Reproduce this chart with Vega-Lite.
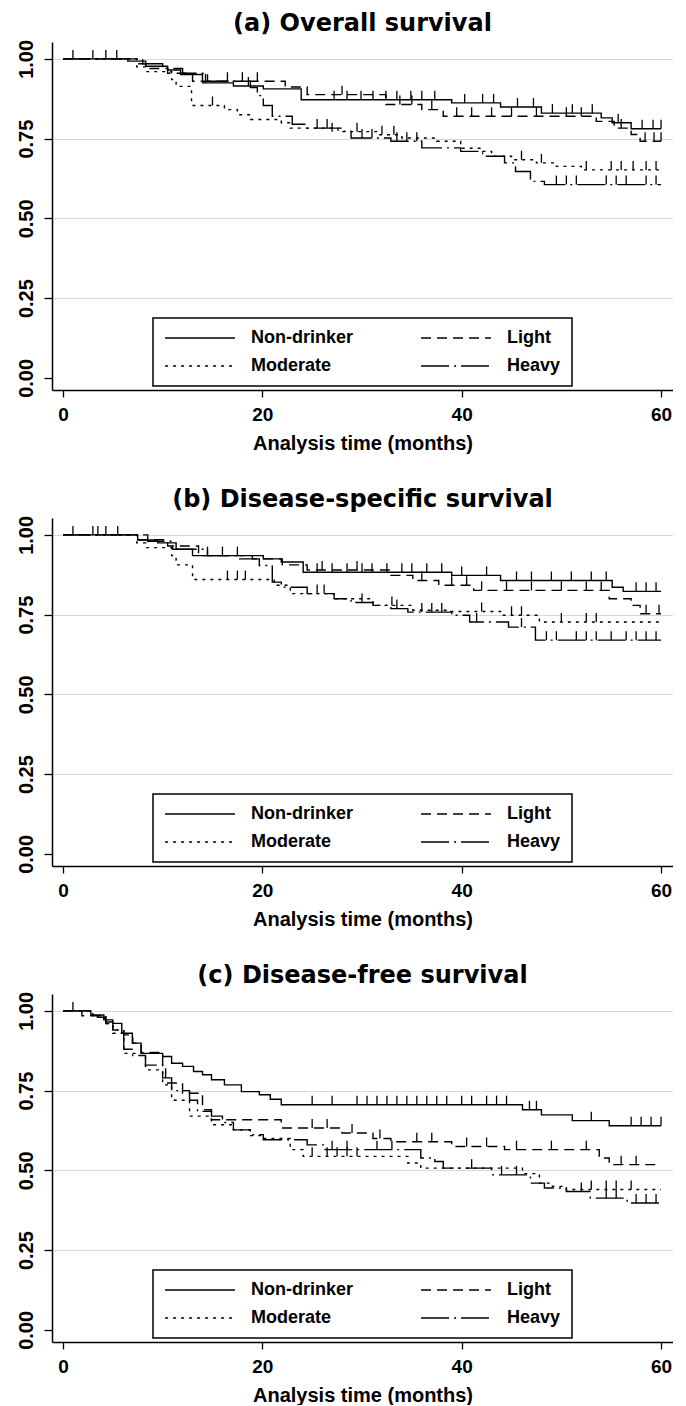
{
  "$schema": "https://vega.github.io/schema/vega-lite/v6.json",
  "background": "white",
  "padding": {"left": 16, "top": 12, "right": 0, "bottom": 0},
  "spacing": 128,
  "bounds": "flush",
  "datasets": {
    "curves": [
      {"panel":"a","group":"Non-drinker","time":0,"surv":1},{"panel":"a","group":"Non-drinker","time":6.5,"surv":0.993},{"panel":"a","group":"Non-drinker","time":8.3,"surv":0.977},{"panel":"a","group":"Non-drinker","time":10.5,"surv":0.965},{"panel":"a","group":"Non-drinker","time":11.8,"surv":0.951},{"panel":"a","group":"Non-drinker","time":14.0,"surv":0.925},{"panel":"a","group":"Non-drinker","time":17.1,"surv":0.915},{"panel":"a","group":"Non-drinker","time":20.1,"surv":0.906},{"panel":"a","group":"Non-drinker","time":23.9,"surv":0.872},{"panel":"a","group":"Non-drinker","time":39.0,"surv":0.862},{"panel":"a","group":"Non-drinker","time":43.9,"surv":0.849},{"panel":"a","group":"Non-drinker","time":48.0,"surv":0.83},{"panel":"a","group":"Non-drinker","time":54.0,"surv":0.815},{"panel":"a","group":"Non-drinker","time":55.1,"surv":0.80},{"panel":"a","group":"Non-drinker","time":57.0,"surv":0.781},{"panel":"a","group":"Non-drinker","time":60,"surv":0.781},
      {"panel":"a","group":"Light","time":0,"surv":1},{"panel":"a","group":"Light","time":7.4,"surv":0.985},{"panel":"a","group":"Light","time":8.3,"surv":0.97},{"panel":"a","group":"Light","time":10.5,"surv":0.955},{"panel":"a","group":"Light","time":13.0,"surv":0.93},{"panel":"a","group":"Light","time":22.3,"surv":0.912},{"panel":"a","group":"Light","time":24.5,"surv":0.888},{"panel":"a","group":"Light","time":32.4,"surv":0.857},{"panel":"a","group":"Light","time":36.0,"surv":0.841},{"panel":"a","group":"Light","time":38.15,"surv":0.82},{"panel":"a","group":"Light","time":53.5,"surv":0.804},{"panel":"a","group":"Light","time":55.3,"surv":0.783},{"panel":"a","group":"Light","time":57.0,"surv":0.763},{"panel":"a","group":"Light","time":57.9,"surv":0.742},{"panel":"a","group":"Light","time":60,"surv":0.742},
      {"panel":"a","group":"Moderate","time":0,"surv":1},{"panel":"a","group":"Moderate","time":7.4,"surv":0.975},{"panel":"a","group":"Moderate","time":8.3,"surv":0.96},{"panel":"a","group":"Moderate","time":10.9,"surv":0.935},{"panel":"a","group":"Moderate","time":11.35,"surv":0.914},{"panel":"a","group":"Moderate","time":12.9,"surv":0.854},{"panel":"a","group":"Moderate","time":16.2,"surv":0.841},{"panel":"a","group":"Moderate","time":17.5,"surv":0.825},{"panel":"a","group":"Moderate","time":18.8,"surv":0.81},{"panel":"a","group":"Moderate","time":21.9,"surv":0.80},{"panel":"a","group":"Moderate","time":22.8,"surv":0.783},{"panel":"a","group":"Moderate","time":27.6,"surv":0.772},{"panel":"a","group":"Moderate","time":31.6,"surv":0.762},{"panel":"a","group":"Moderate","time":34.0,"surv":0.752},{"panel":"a","group":"Moderate","time":37.5,"surv":0.742},{"panel":"a","group":"Moderate","time":39.9,"surv":0.72},{"panel":"a","group":"Moderate","time":42.1,"surv":0.71},{"panel":"a","group":"Moderate","time":43.0,"surv":0.695},{"panel":"a","group":"Moderate","time":45.0,"surv":0.684},{"panel":"a","group":"Moderate","time":47.5,"surv":0.674},{"panel":"a","group":"Moderate","time":49.5,"surv":0.663},{"panel":"a","group":"Moderate","time":52.0,"surv":0.652},{"panel":"a","group":"Moderate","time":60,"surv":0.652},
      {"panel":"a","group":"Heavy","time":0,"surv":1},{"panel":"a","group":"Heavy","time":8.0,"surv":0.985},{"panel":"a","group":"Heavy","time":10.0,"surv":0.97},{"panel":"a","group":"Heavy","time":12.0,"surv":0.955},{"panel":"a","group":"Heavy","time":14.5,"surv":0.93},{"panel":"a","group":"Heavy","time":18.8,"surv":0.91},{"panel":"a","group":"Heavy","time":19.5,"surv":0.885},{"panel":"a","group":"Heavy","time":20.1,"surv":0.854},{"panel":"a","group":"Heavy","time":21.0,"surv":0.82},{"panel":"a","group":"Heavy","time":23.0,"surv":0.795},{"panel":"a","group":"Heavy","time":24.5,"surv":0.783},{"panel":"a","group":"Heavy","time":28.0,"surv":0.773},{"panel":"a","group":"Heavy","time":28.9,"surv":0.752},{"panel":"a","group":"Heavy","time":32.9,"surv":0.742},{"panel":"a","group":"Heavy","time":36.0,"surv":0.721},{"panel":"a","group":"Heavy","time":39.9,"surv":0.71},{"panel":"a","group":"Heavy","time":42.1,"surv":0.695},{"panel":"a","group":"Heavy","time":44.3,"surv":0.674},{"panel":"a","group":"Heavy","time":45.4,"surv":0.647},{"panel":"a","group":"Heavy","time":46.9,"surv":0.616},{"panel":"a","group":"Heavy","time":48.3,"surv":0.606},{"panel":"a","group":"Heavy","time":60,"surv":0.606},

      {"panel":"b","group":"Non-drinker","time":0,"surv":1},{"panel":"b","group":"Non-drinker","time":7.5,"surv":0.984},{"panel":"b","group":"Non-drinker","time":9.5,"surv":0.975},{"panel":"b","group":"Non-drinker","time":11.35,"surv":0.955},{"panel":"b","group":"Non-drinker","time":13.0,"surv":0.935},{"panel":"b","group":"Non-drinker","time":20.1,"surv":0.925},{"panel":"b","group":"Non-drinker","time":21.9,"surv":0.915},{"panel":"b","group":"Non-drinker","time":24.1,"surv":0.883},{"panel":"b","group":"Non-drinker","time":39.0,"surv":0.873},{"panel":"b","group":"Non-drinker","time":43.9,"surv":0.857},{"panel":"b","group":"Non-drinker","time":55.1,"surv":0.836},{"panel":"b","group":"Non-drinker","time":56.2,"surv":0.823},{"panel":"b","group":"Non-drinker","time":60,"surv":0.823},
      {"panel":"b","group":"Light","time":0,"surv":1},{"panel":"b","group":"Light","time":7.4,"surv":0.985},{"panel":"b","group":"Light","time":10.5,"surv":0.965},{"panel":"b","group":"Light","time":13.6,"surv":0.935},{"panel":"b","group":"Light","time":19.0,"surv":0.925},{"panel":"b","group":"Light","time":22.0,"surv":0.906},{"panel":"b","group":"Light","time":24.5,"surv":0.89},{"panel":"b","group":"Light","time":32.9,"surv":0.873},{"panel":"b","group":"Light","time":35.1,"surv":0.857},{"panel":"b","group":"Light","time":37.7,"surv":0.842},{"panel":"b","group":"Light","time":41.2,"surv":0.826},{"panel":"b","group":"Light","time":54.8,"surv":0.80},{"panel":"b","group":"Light","time":57.0,"surv":0.779},{"panel":"b","group":"Light","time":57.9,"surv":0.753},{"panel":"b","group":"Light","time":60,"surv":0.753},
      {"panel":"b","group":"Moderate","time":0,"surv":1},{"panel":"b","group":"Moderate","time":7.4,"surv":0.975},{"panel":"b","group":"Moderate","time":8.3,"surv":0.96},{"panel":"b","group":"Moderate","time":10.9,"surv":0.935},{"panel":"b","group":"Moderate","time":11.35,"surv":0.906},{"panel":"b","group":"Moderate","time":13.0,"surv":0.86},{"panel":"b","group":"Moderate","time":21.2,"surv":0.842},{"panel":"b","group":"Moderate","time":22.8,"surv":0.816},{"panel":"b","group":"Moderate","time":27.2,"surv":0.80},{"panel":"b","group":"Moderate","time":31.1,"surv":0.779},{"panel":"b","group":"Moderate","time":35.1,"surv":0.764},{"panel":"b","group":"Moderate","time":38.6,"surv":0.76},{"panel":"b","group":"Moderate","time":43.9,"surv":0.748},{"panel":"b","group":"Moderate","time":47.8,"surv":0.727},{"panel":"b","group":"Moderate","time":60,"surv":0.727},
      {"panel":"b","group":"Heavy","time":0,"surv":1},{"panel":"b","group":"Heavy","time":8.5,"surv":0.98},{"panel":"b","group":"Heavy","time":11.0,"surv":0.955},{"panel":"b","group":"Heavy","time":14.5,"surv":0.935},{"panel":"b","group":"Heavy","time":17.5,"surv":0.925},{"panel":"b","group":"Heavy","time":19.7,"surv":0.904},{"panel":"b","group":"Heavy","time":21.0,"surv":0.852},{"panel":"b","group":"Heavy","time":21.9,"surv":0.836},{"panel":"b","group":"Heavy","time":24.5,"surv":0.816},{"panel":"b","group":"Heavy","time":27.2,"surv":0.80},{"panel":"b","group":"Heavy","time":28.9,"surv":0.788},{"panel":"b","group":"Heavy","time":31.1,"surv":0.779},{"panel":"b","group":"Heavy","time":32.9,"surv":0.769},{"panel":"b","group":"Heavy","time":34.6,"surv":0.758},{"panel":"b","group":"Heavy","time":39.0,"surv":0.748},{"panel":"b","group":"Heavy","time":40.8,"surv":0.727},{"panel":"b","group":"Heavy","time":44.7,"surv":0.711},{"panel":"b","group":"Heavy","time":47.4,"surv":0.67},{"panel":"b","group":"Heavy","time":60,"surv":0.67},

      {"panel":"c","group":"Non-drinker","time":0,"surv":1},{"panel":"c","group":"Non-drinker","time":2.8,"surv":0.987},{"panel":"c","group":"Non-drinker","time":4.1,"surv":0.972},{"panel":"c","group":"Non-drinker","time":5.0,"surv":0.961},{"panel":"c","group":"Non-drinker","time":5.9,"surv":0.93},{"panel":"c","group":"Non-drinker","time":6.96,"surv":0.899},{"panel":"c","group":"Non-drinker","time":7.84,"surv":0.867},{"panel":"c","group":"Non-drinker","time":10.0,"surv":0.857},{"panel":"c","group":"Non-drinker","time":10.9,"surv":0.836},{"panel":"c","group":"Non-drinker","time":12.0,"surv":0.826},{"panel":"c","group":"Non-drinker","time":13.1,"surv":0.81},{"panel":"c","group":"Non-drinker","time":14.0,"surv":0.80},{"panel":"c","group":"Non-drinker","time":14.9,"surv":0.784},{"panel":"c","group":"Non-drinker","time":16.2,"surv":0.768},{"panel":"c","group":"Non-drinker","time":17.9,"surv":0.747},{"panel":"c","group":"Non-drinker","time":19.7,"surv":0.737},{"panel":"c","group":"Non-drinker","time":20.8,"surv":0.723},{"panel":"c","group":"Non-drinker","time":21.9,"surv":0.706},{"panel":"c","group":"Non-drinker","time":46.1,"surv":0.69},{"panel":"c","group":"Non-drinker","time":48.0,"surv":0.674},{"panel":"c","group":"Non-drinker","time":51.1,"surv":0.656},{"panel":"c","group":"Non-drinker","time":54.8,"surv":0.64},{"panel":"c","group":"Non-drinker","time":60,"surv":0.64},
      {"panel":"c","group":"Light","time":0,"surv":1},{"panel":"c","group":"Light","time":1.9,"surv":0.985},{"panel":"c","group":"Light","time":3.5,"surv":0.975},{"panel":"c","group":"Light","time":4.3,"surv":0.96},{"panel":"c","group":"Light","time":5.0,"surv":0.94},{"panel":"c","group":"Light","time":6.1,"surv":0.925},{"panel":"c","group":"Light","time":7.0,"surv":0.899},{"panel":"c","group":"Light","time":7.84,"surv":0.87},{"panel":"c","group":"Light","time":10.0,"surv":0.826},{"panel":"c","group":"Light","time":10.3,"surv":0.774},{"panel":"c","group":"Light","time":12.0,"surv":0.742},{"panel":"c","group":"Light","time":14.0,"surv":0.69},{"panel":"c","group":"Light","time":14.9,"surv":0.659},{"panel":"c","group":"Light","time":21.9,"surv":0.633},{"panel":"c","group":"Light","time":28.0,"surv":0.617},{"panel":"c","group":"Light","time":31.1,"surv":0.60},{"panel":"c","group":"Light","time":32.9,"surv":0.59},{"panel":"c","group":"Light","time":39.0,"surv":0.575},{"panel":"c","group":"Light","time":44.3,"surv":0.565},{"panel":"c","group":"Light","time":53.8,"surv":0.539},{"panel":"c","group":"Light","time":54.8,"surv":0.518},{"panel":"c","group":"Light","time":60,"surv":0.518},
      {"panel":"c","group":"Moderate","time":0,"surv":1},{"panel":"c","group":"Moderate","time":3.0,"surv":0.985},{"panel":"c","group":"Moderate","time":4.3,"surv":0.96},{"panel":"c","group":"Moderate","time":5.0,"surv":0.93},{"panel":"c","group":"Moderate","time":6.1,"surv":0.867},{"panel":"c","group":"Moderate","time":8.28,"surv":0.815},{"panel":"c","group":"Moderate","time":10.0,"surv":0.768},{"panel":"c","group":"Moderate","time":10.9,"surv":0.72},{"panel":"c","group":"Moderate","time":12.7,"surv":0.67},{"panel":"c","group":"Moderate","time":14.9,"surv":0.643},{"panel":"c","group":"Moderate","time":17.1,"surv":0.627},{"panel":"c","group":"Moderate","time":18.8,"surv":0.609},{"panel":"c","group":"Moderate","time":20.1,"surv":0.60},{"panel":"c","group":"Moderate","time":22.8,"surv":0.565},{"panel":"c","group":"Moderate","time":24.1,"surv":0.544},{"panel":"c","group":"Moderate","time":34.6,"surv":0.523},{"panel":"c","group":"Moderate","time":35.9,"surv":0.507},{"panel":"c","group":"Moderate","time":46.1,"surv":0.49},{"panel":"c","group":"Moderate","time":47.8,"surv":0.46},{"panel":"c","group":"Moderate","time":49.1,"surv":0.45},{"panel":"c","group":"Moderate","time":50.5,"surv":0.44},{"panel":"c","group":"Moderate","time":60,"surv":0.44},
      {"panel":"c","group":"Heavy","time":0,"surv":1},{"panel":"c","group":"Heavy","time":3.0,"surv":0.98},{"panel":"c","group":"Heavy","time":4.3,"surv":0.965},{"panel":"c","group":"Heavy","time":5.0,"surv":0.94},{"panel":"c","group":"Heavy","time":6.1,"surv":0.88},{"panel":"c","group":"Heavy","time":7.0,"surv":0.86},{"panel":"c","group":"Heavy","time":8.28,"surv":0.83},{"panel":"c","group":"Heavy","time":10.0,"surv":0.79},{"panel":"c","group":"Heavy","time":10.9,"surv":0.75},{"panel":"c","group":"Heavy","time":12.7,"surv":0.72},{"panel":"c","group":"Heavy","time":13.5,"surv":0.685},{"panel":"c","group":"Heavy","time":14.9,"surv":0.67},{"panel":"c","group":"Heavy","time":16.0,"surv":0.65},{"panel":"c","group":"Heavy","time":17.1,"surv":0.627},{"panel":"c","group":"Heavy","time":18.8,"surv":0.612},{"panel":"c","group":"Heavy","time":20.1,"surv":0.596},{"panel":"c","group":"Heavy","time":24.5,"surv":0.58},{"panel":"c","group":"Heavy","time":26.3,"surv":0.565},{"panel":"c","group":"Heavy","time":35.9,"surv":0.539},{"panel":"c","group":"Heavy","time":37.3,"surv":0.528},{"panel":"c","group":"Heavy","time":38.15,"surv":0.507},{"panel":"c","group":"Heavy","time":43.0,"surv":0.486},{"panel":"c","group":"Heavy","time":46.9,"surv":0.46},{"panel":"c","group":"Heavy","time":48.3,"surv":0.445},{"panel":"c","group":"Heavy","time":50.5,"surv":0.434},{"panel":"c","group":"Heavy","time":52.9,"surv":0.413},{"panel":"c","group":"Heavy","time":56.6,"surv":0.398},{"panel":"c","group":"Heavy","time":60,"surv":0.398}
    ],
    "censor": [
      {"panel":"a","time":1.0,"surv":1},{"panel":"a","time":3.0,"surv":1},{"panel":"a","time":4.3,"surv":1},{"panel":"a","time":5.4,"surv":1},{"panel":"a","time":14.3,"surv":0.925},{"panel":"a","time":18.6,"surv":0.915},{"panel":"a","time":27.2,"surv":0.872},{"panel":"a","time":28.5,"surv":0.872},{"panel":"a","time":29.9,"surv":0.872},{"panel":"a","time":31.1,"surv":0.872},{"panel":"a","time":32.4,"surv":0.872},{"panel":"a","time":33.5,"surv":0.872},{"panel":"a","time":34.9,"surv":0.872},{"panel":"a","time":36.0,"surv":0.872},{"panel":"a","time":37.3,"surv":0.872},{"panel":"a","time":40.3,"surv":0.862},{"panel":"a","time":42.1,"surv":0.862},{"panel":"a","time":43.2,"surv":0.862},{"panel":"a","time":45.6,"surv":0.849},{"panel":"a","time":47.2,"surv":0.849},{"panel":"a","time":49.1,"surv":0.83},{"panel":"a","time":51.1,"surv":0.83},{"panel":"a","time":53.1,"surv":0.83},{"panel":"a","time":55.7,"surv":0.80},{"panel":"a","time":58.1,"surv":0.781},{"panel":"a","time":59.2,"surv":0.781},{"panel":"a","time":60,"surv":0.781},
      {"panel":"a","time":16.5,"surv":0.93},{"panel":"a","time":18.0,"surv":0.93},{"panel":"a","time":19.5,"surv":0.93},{"panel":"a","time":28.0,"surv":0.888},{"panel":"a","time":33.8,"surv":0.857},{"panel":"a","time":35.0,"surv":0.857},{"panel":"a","time":37.0,"surv":0.841},{"panel":"a","time":39.5,"surv":0.82},{"panel":"a","time":41.0,"surv":0.82},{"panel":"a","time":43.0,"surv":0.82},{"panel":"a","time":45.0,"surv":0.82},{"panel":"a","time":47.5,"surv":0.82},{"panel":"a","time":50.5,"surv":0.82},{"panel":"a","time":52.0,"surv":0.82},{"panel":"a","time":56.0,"surv":0.783},{"panel":"a","time":58.4,"surv":0.742},{"panel":"a","time":59.3,"surv":0.742},{"panel":"a","time":60,"surv":0.742},
      {"panel":"a","time":15.0,"surv":0.854},{"panel":"a","time":27.0,"surv":0.772},{"panel":"a","time":29.5,"surv":0.772},{"panel":"a","time":32.0,"surv":0.762},{"panel":"a","time":33.2,"surv":0.762},{"panel":"a","time":46.0,"surv":0.684},{"panel":"a","time":48.0,"surv":0.674},{"panel":"a","time":52.5,"surv":0.652},{"panel":"a","time":55.0,"surv":0.652},{"panel":"a","time":56.0,"surv":0.652},{"panel":"a","time":57.2,"surv":0.652},{"panel":"a","time":58.5,"surv":0.652},{"panel":"a","time":59.5,"surv":0.652},
      {"panel":"a","time":25.5,"surv":0.783},{"panel":"a","time":26.5,"surv":0.783},{"panel":"a","time":30.0,"surv":0.752},{"panel":"a","time":31.0,"surv":0.752},{"panel":"a","time":33.5,"surv":0.742},{"panel":"a","time":34.5,"surv":0.742},{"panel":"a","time":35.5,"surv":0.742},{"panel":"a","time":49.5,"surv":0.606},{"panel":"a","time":50.5,"surv":0.606},{"panel":"a","time":51.5,"surv":0.606},{"panel":"a","time":54.5,"surv":0.606},{"panel":"a","time":55.5,"surv":0.606},{"panel":"a","time":56.5,"surv":0.606},{"panel":"a","time":58.5,"surv":0.606},{"panel":"a","time":59.5,"surv":0.606},

      {"panel":"b","time":1.0,"surv":1},{"panel":"b","time":3.0,"surv":1},{"panel":"b","time":4.3,"surv":1},{"panel":"b","time":5.5,"surv":1},{"panel":"b","time":14.5,"surv":0.935},{"panel":"b","time":16.0,"surv":0.935},{"panel":"b","time":17.5,"surv":0.935},{"panel":"b","time":25.5,"surv":0.883},{"panel":"b","time":27.0,"surv":0.883},{"panel":"b","time":28.5,"surv":0.883},{"panel":"b","time":30.0,"surv":0.883},{"panel":"b","time":31.0,"surv":0.883},{"panel":"b","time":32.5,"surv":0.883},{"panel":"b","time":34.0,"surv":0.883},{"panel":"b","time":35.0,"surv":0.883},{"panel":"b","time":36.5,"surv":0.883},{"panel":"b","time":38.0,"surv":0.883},{"panel":"b","time":40.0,"surv":0.873},{"panel":"b","time":42.5,"surv":0.873},{"panel":"b","time":45.5,"surv":0.857},{"panel":"b","time":47.0,"surv":0.857},{"panel":"b","time":49.0,"surv":0.857},{"panel":"b","time":51.0,"surv":0.857},{"panel":"b","time":53.0,"surv":0.857},{"panel":"b","time":54.5,"surv":0.857},{"panel":"b","time":57.5,"surv":0.823},{"panel":"b","time":58.5,"surv":0.823},{"panel":"b","time":59.5,"surv":0.823},
      {"panel":"b","time":3.5,"surv":1},{"panel":"b","time":26.0,"surv":0.89},{"panel":"b","time":29.5,"surv":0.89},{"panel":"b","time":36.0,"surv":0.857},{"panel":"b","time":39.0,"surv":0.842},{"panel":"b","time":40.5,"surv":0.842},{"panel":"b","time":42.0,"surv":0.826},{"panel":"b","time":44.5,"surv":0.826},{"panel":"b","time":47.0,"surv":0.826},{"panel":"b","time":50.0,"surv":0.826},{"panel":"b","time":52.5,"surv":0.826},{"panel":"b","time":54.0,"surv":0.826},{"panel":"b","time":58.5,"surv":0.753},{"panel":"b","time":59.8,"surv":0.753},
      {"panel":"b","time":16.5,"surv":0.86},{"panel":"b","time":17.5,"surv":0.86},{"panel":"b","time":18.3,"surv":0.86},{"panel":"b","time":33.0,"surv":0.779},{"panel":"b","time":42.0,"surv":0.76},{"panel":"b","time":45.0,"surv":0.748},{"panel":"b","time":46.0,"surv":0.748},{"panel":"b","time":50.0,"surv":0.727},{"panel":"b","time":52.5,"surv":0.727},{"panel":"b","time":53.5,"surv":0.727},
      {"panel":"b","time":25.5,"surv":0.816},{"panel":"b","time":26.2,"surv":0.816},{"panel":"b","time":30.0,"surv":0.788},{"panel":"b","time":33.5,"surv":0.769},{"panel":"b","time":36.0,"surv":0.758},{"panel":"b","time":37.0,"surv":0.758},{"panel":"b","time":38.0,"surv":0.758},{"panel":"b","time":41.5,"surv":0.727},{"panel":"b","time":46.0,"surv":0.711},{"panel":"b","time":48.5,"surv":0.67},{"panel":"b","time":49.5,"surv":0.67},{"panel":"b","time":51.5,"surv":0.67},{"panel":"b","time":52.5,"surv":0.67},{"panel":"b","time":53.5,"surv":0.67},{"panel":"b","time":55.0,"surv":0.67},{"panel":"b","time":56.5,"surv":0.67},{"panel":"b","time":57.5,"surv":0.67},{"panel":"b","time":58.5,"surv":0.67},{"panel":"b","time":59.5,"surv":0.67},

      {"panel":"c","time":1.0,"surv":1},{"panel":"c","time":25.0,"surv":0.706},{"panel":"c","time":27.0,"surv":0.706},{"panel":"c","time":29.5,"surv":0.706},{"panel":"c","time":30.5,"surv":0.706},{"panel":"c","time":31.5,"surv":0.706},{"panel":"c","time":32.5,"surv":0.706},{"panel":"c","time":33.5,"surv":0.706},{"panel":"c","time":34.5,"surv":0.706},{"panel":"c","time":35.5,"surv":0.706},{"panel":"c","time":36.5,"surv":0.706},{"panel":"c","time":37.5,"surv":0.706},{"panel":"c","time":38.5,"surv":0.706},{"panel":"c","time":40.0,"surv":0.706},{"panel":"c","time":41.0,"surv":0.706},{"panel":"c","time":42.5,"surv":0.706},{"panel":"c","time":43.5,"surv":0.706},{"panel":"c","time":44.5,"surv":0.706},{"panel":"c","time":46.8,"surv":0.69},{"panel":"c","time":47.5,"surv":0.69},{"panel":"c","time":53.0,"surv":0.656},{"panel":"c","time":57.0,"surv":0.64},{"panel":"c","time":58.0,"surv":0.64},{"panel":"c","time":59.0,"surv":0.64},{"panel":"c","time":60,"surv":0.64},
      {"panel":"c","time":25.0,"surv":0.633},{"panel":"c","time":26.5,"surv":0.633},{"panel":"c","time":29.0,"surv":0.617},{"panel":"c","time":31.8,"surv":0.60},{"panel":"c","time":35.5,"surv":0.59},{"panel":"c","time":37.0,"surv":0.59},{"panel":"c","time":40.5,"surv":0.575},{"panel":"c","time":42.5,"surv":0.575},{"panel":"c","time":45.5,"surv":0.565},{"panel":"c","time":49.0,"surv":0.565},{"panel":"c","time":52.5,"surv":0.565},{"panel":"c","time":56.0,"surv":0.518},{"panel":"c","time":57.5,"surv":0.518},
      {"panel":"c","time":25.0,"surv":0.544},{"panel":"c","time":26.5,"surv":0.544},{"panel":"c","time":27.5,"surv":0.544},{"panel":"c","time":28.5,"surv":0.544},{"panel":"c","time":29.5,"surv":0.544},{"panel":"c","time":53.0,"surv":0.44},{"panel":"c","time":54.5,"surv":0.44},{"panel":"c","time":55.5,"surv":0.44},{"panel":"c","time":57.0,"surv":0.44},
      {"panel":"c","time":27.0,"surv":0.565},{"panel":"c","time":28.5,"surv":0.565},{"panel":"c","time":31.5,"surv":0.565},{"panel":"c","time":33.0,"surv":0.565},{"panel":"c","time":41.0,"surv":0.507},{"panel":"c","time":44.0,"surv":0.486},{"panel":"c","time":45.5,"surv":0.486},{"panel":"c","time":52.0,"surv":0.434},{"panel":"c","time":54.5,"surv":0.413},{"panel":"c","time":55.5,"surv":0.413},{"panel":"c","time":57.5,"surv":0.398},{"panel":"c","time":58.5,"surv":0.398},{"panel":"c","time":59.5,"surv":0.398}
    ]
  },
  "resolve": {"legend": {"strokeDash": "independent"}},
  "vconcat": [
    {
      "title": "(a) Overall survival",
      "width": 621, "height": 348,
      "layer": [
        {"data": {"name": "curves"}, "transform": [{"filter": "datum.panel === 'a'"}],
         "mark": {"type": "line", "interpolate": "step-after", "color": "black", "strokeWidth": 1.4},
         "encoding": {
           "x": {"field": "time", "type": "quantitative", "scale": {"domain": [-1.1, 61.2], "nice": false, "zero": false}, "axis": {"values": [0, 20, 40, 60], "title": "Analysis time (months)", "grid": false}},
           "y": {"field": "surv", "type": "quantitative", "scale": {"domain": [-0.038, 1.053], "nice": false, "zero": false}, "axis": {"values": [0, 0.25, 0.5, 0.75, 1], "format": ".2f", "title": null}},
           "strokeDash": {"field": "group", "type": "nominal", "scale": {"domain": ["Non-drinker", "Moderate", "Light", "Heavy"], "range": [[1, 0], [3, 5], [10, 6], [28, 5, 2, 5]]}, "legend": {"title": null}},
           "detail": {"field": "group"}
         }},
        {"data": {"name": "censor"}, "transform": [{"filter": "datum.panel === 'a'"}],
         "mark": {"type": "tick", "orient": "vertical", "color": "black", "size": 9, "thickness": 1.3, "yOffset": -4.5, "opacity": 1},
         "encoding": {"x": {"field": "time", "type": "quantitative"}, "y": {"field": "surv", "type": "quantitative"}}}
      ]
    },
    {
      "title": "(b) Disease-specific survival",
      "width": 621, "height": 348,
      "layer": [
        {"data": {"name": "curves"}, "transform": [{"filter": "datum.panel === 'b'"}],
         "mark": {"type": "line", "interpolate": "step-after", "color": "black", "strokeWidth": 1.4},
         "encoding": {
           "x": {"field": "time", "type": "quantitative", "scale": {"domain": [-1.1, 61.2], "nice": false, "zero": false}, "axis": {"values": [0, 20, 40, 60], "title": "Analysis time (months)", "grid": false}},
           "y": {"field": "surv", "type": "quantitative", "scale": {"domain": [-0.038, 1.053], "nice": false, "zero": false}, "axis": {"values": [0, 0.25, 0.5, 0.75, 1], "format": ".2f", "title": null}},
           "strokeDash": {"field": "group", "type": "nominal", "scale": {"domain": ["Non-drinker", "Moderate", "Light", "Heavy"], "range": [[1, 0], [3, 5], [10, 6], [28, 5, 2, 5]]}, "legend": {"title": null}},
           "detail": {"field": "group"}
         }},
        {"data": {"name": "censor"}, "transform": [{"filter": "datum.panel === 'b'"}],
         "mark": {"type": "tick", "orient": "vertical", "color": "black", "size": 9, "thickness": 1.3, "yOffset": -4.5, "opacity": 1},
         "encoding": {"x": {"field": "time", "type": "quantitative"}, "y": {"field": "surv", "type": "quantitative"}}}
      ]
    },
    {
      "title": "(c) Disease-free survival",
      "width": 621, "height": 348,
      "layer": [
        {"data": {"name": "curves"}, "transform": [{"filter": "datum.panel === 'c'"}],
         "mark": {"type": "line", "interpolate": "step-after", "color": "black", "strokeWidth": 1.4},
         "encoding": {
           "x": {"field": "time", "type": "quantitative", "scale": {"domain": [-1.1, 61.2], "nice": false, "zero": false}, "axis": {"values": [0, 20, 40, 60], "title": "Analysis time (months)", "grid": false}},
           "y": {"field": "surv", "type": "quantitative", "scale": {"domain": [-0.038, 1.053], "nice": false, "zero": false}, "axis": {"values": [0, 0.25, 0.5, 0.75, 1], "format": ".2f", "title": null}},
           "strokeDash": {"field": "group", "type": "nominal", "scale": {"domain": ["Non-drinker", "Moderate", "Light", "Heavy"], "range": [[1, 0], [3, 5], [10, 6], [28, 5, 2, 5]]}, "legend": {"title": null}},
           "detail": {"field": "group"}
         }},
        {"data": {"name": "censor"}, "transform": [{"filter": "datum.panel === 'c'"}],
         "mark": {"type": "tick", "orient": "vertical", "color": "black", "size": 9, "thickness": 1.3, "yOffset": -4.5, "opacity": 1},
         "encoding": {"x": {"field": "time", "type": "quantitative"}, "y": {"field": "surv", "type": "quantitative"}}}
      ]
    }
  ],
  "config": {
    "font": "Liberation Sans",
    "view": {"stroke": null},
    "title": {"font": "DejaVu Sans", "fontSize": 24, "fontWeight": "bold", "color": "black", "anchor": "middle", "offset": 3},
    "axis": {"domainColor": "black", "domainWidth": 1.5, "tickColor": "black", "tickWidth": 1.3, "labelColor": "black", "labelFont": "Liberation Sans", "labelFontWeight": "bold", "labelFontSize": 19, "titleColor": "black", "titleFont": "Liberation Sans", "titleFontWeight": "bold", "titleFontSize": 20},
    "axisX": {"tickSize": 7, "labelPadding": 8, "titlePadding": 9},
    "axisY": {"tickSize": 8, "labelPadding": 8, "labelAngle": -90, "grid": true, "gridColor": {"condition": {"test": "datum.value === 0", "value": "transparent"}, "value": "#d8d8d8"}, "gridWidth": 1.2, "labelFontSize": 20},
    "legend": {"orient": "none", "legendX": 101, "legendY": 276, "columns": 2, "symbolType": "stroke", "symbolSize": 4900, "clipHeight": 18, "symbolStrokeWidth": 1.5, "symbolStrokeColor": "black", "labelFont": "Liberation Sans", "labelFontWeight": "bold", "labelFontSize": 18, "labelColor": "black", "labelOffset": 15, "columnPadding": 66, "rowPadding": 10, "padding": 11, "strokeColor": "black", "strokeWidth": 1.5, "fillColor": "white", "labelLimit": 300}
  }
}
